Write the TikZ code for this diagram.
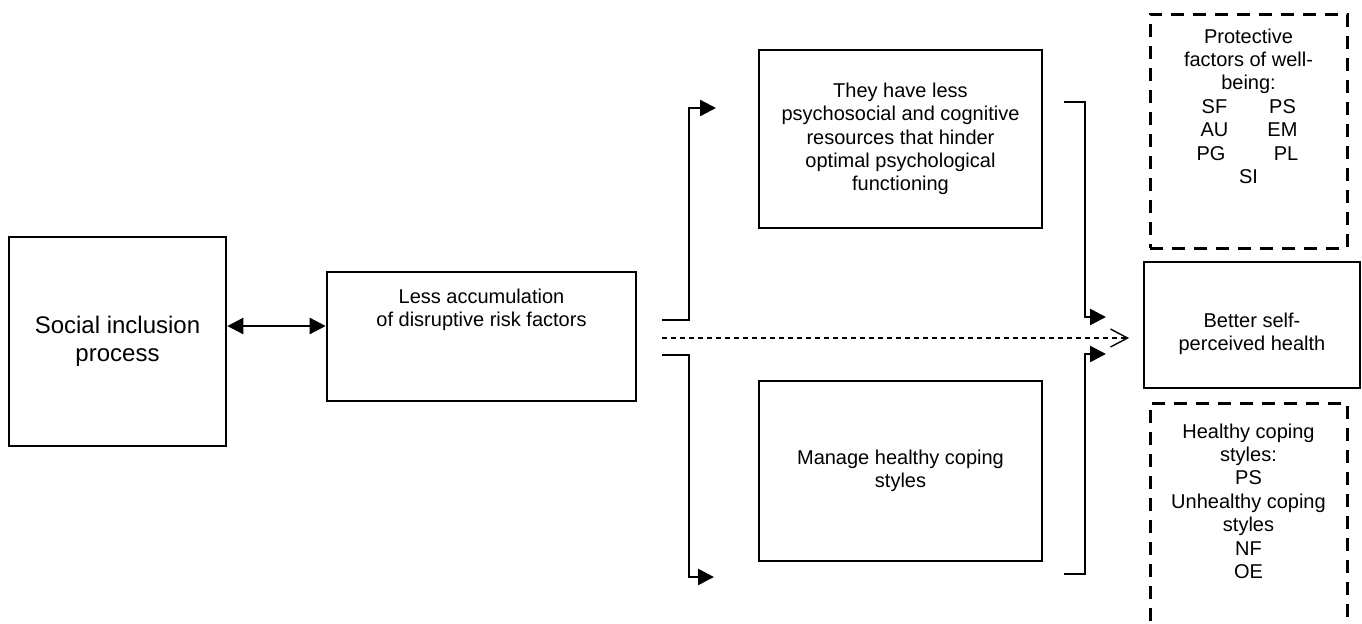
\documentclass[tikz,border=0pt]{standalone}
\usepackage{fontspec}
\setmainfont{Liberation Sans}
\usetikzlibrary{arrows.meta,positioning}

\begin{document}
\begin{tikzpicture}[
    x=0.5pt, y=-0.5pt,
    box/.style={rectangle, draw=black, line width=1.3pt, align=center,
                inner sep=0pt, font=\fontsize{10}{11.7}\selectfont},
    wide/.style={box, minimum width=141.5pt, minimum height=89pt},
    factors/.style={box, line width=1.5pt, dash pattern=on 6.5pt off 4.5pt,
                    minimum width=98.5pt},
    flow/.style={line width=1.2pt, -{Triangle[length=8pt,width=8pt]}},
    link/.style={line width=1.2pt,
                 {Triangle[length=8pt,width=8pt]}-{Triangle[length=8pt,width=8pt]}},
    guess/.style={line width=0.7pt, dash pattern=on 2.5pt off 2pt,
                  -{Straight Barb[length=8.5pt,width=9pt]}}
]
  \clip (0,0) rectangle (1362,623);

  % Left part
  \node[box, minimum width=108.5pt, minimum height=104.5pt,
        font=\fontsize{12}{13.8}\selectfont] (social) at (117.5,341.5)
        {Social inclusion\\process};
  \node[box, minimum width=154.5pt, minimum height=64.5pt] (less) at (481.5,336.5)
        {\parbox[c][64.5pt][t]{150pt}{\centering\rule{0pt}{15.5pt}Less accumulation\\
         of disruptive risk factors}};

  % Middle boxes
  \node[wide] (resources) at (900.5,139)
        {They have less\\psychosocial and cognitive\\resources that hinder\\
         optimal psychological\\functioning};
  \node[wide, minimum height=90pt] (coping) at (900.5,471)
        {Manage healthy coping\\styles};

  % Right column
  \node[factors, minimum height=117pt] (protect) at (1248.5,131)
        {\parbox[c][117pt][t]{96pt}{\centering\rule{0pt}{14.5pt}Protective\\
         factors of well-\\being:\\
         \makebox[16pt]{SF}\hspace{18pt}\makebox[16pt]{PS}\hspace*{4.5pt}\\
         \makebox[16pt]{AU}\hspace{18pt}\makebox[16pt]{EM}\hspace*{4.5pt}\\
         \makebox[16pt]{PG}\hspace{21.5pt}\makebox[16pt]{PL}\hspace*{1pt}\\
         SI}};
  \node[box, minimum width=108pt, minimum height=63pt] (health) at (1252,325)
        {\parbox[c][63pt][t]{104pt}{\centering\rule{0pt}{32.5pt}Better self-\\
         perceived health}};
  \node[factors, minimum height=118.5pt] (styles) at (1248.5,521.5)
        {\parbox[c][118.5pt][t]{96pt}{\centering\rule{0pt}{17.5pt}Healthy coping\\
         styles:\\PS\\Unhealthy coping\\styles\\NF\\OE}};

  % Free ends of the brackets
  \coordinate (uptail) at (662,320);
  \coordinate (uphead) at (716,108);
  \coordinate (downtail) at (662,355);
  \coordinate (downhead) at (714,577);
  \coordinate (intail) at (1064,102);
  \coordinate (inhead) at (1106,317);
  \coordinate (outtail) at (1064,574);
  \coordinate (outhead) at (1106,354);
  \coordinate (pathtail) at (662,338);
  \coordinate (pathhead) at (1129,338);

  % Connecting arrows
  \draw[link] ([yshift=7.75pt]social.east) -- ([yshift=5.25pt]less.west);
  \draw[flow] (uptail) -- ++(27,0) |- (uphead);
  \draw[flow] (downtail) -- ++(27,0) |- (downhead);
  \draw[flow] (intail) -- ++(21,0) |- (inhead);
  \draw[flow] (outtail) -- ++(21,0) |- (outhead);
  \draw[guess] (pathtail) -- (pathhead);

\end{tikzpicture}
\end{document}
